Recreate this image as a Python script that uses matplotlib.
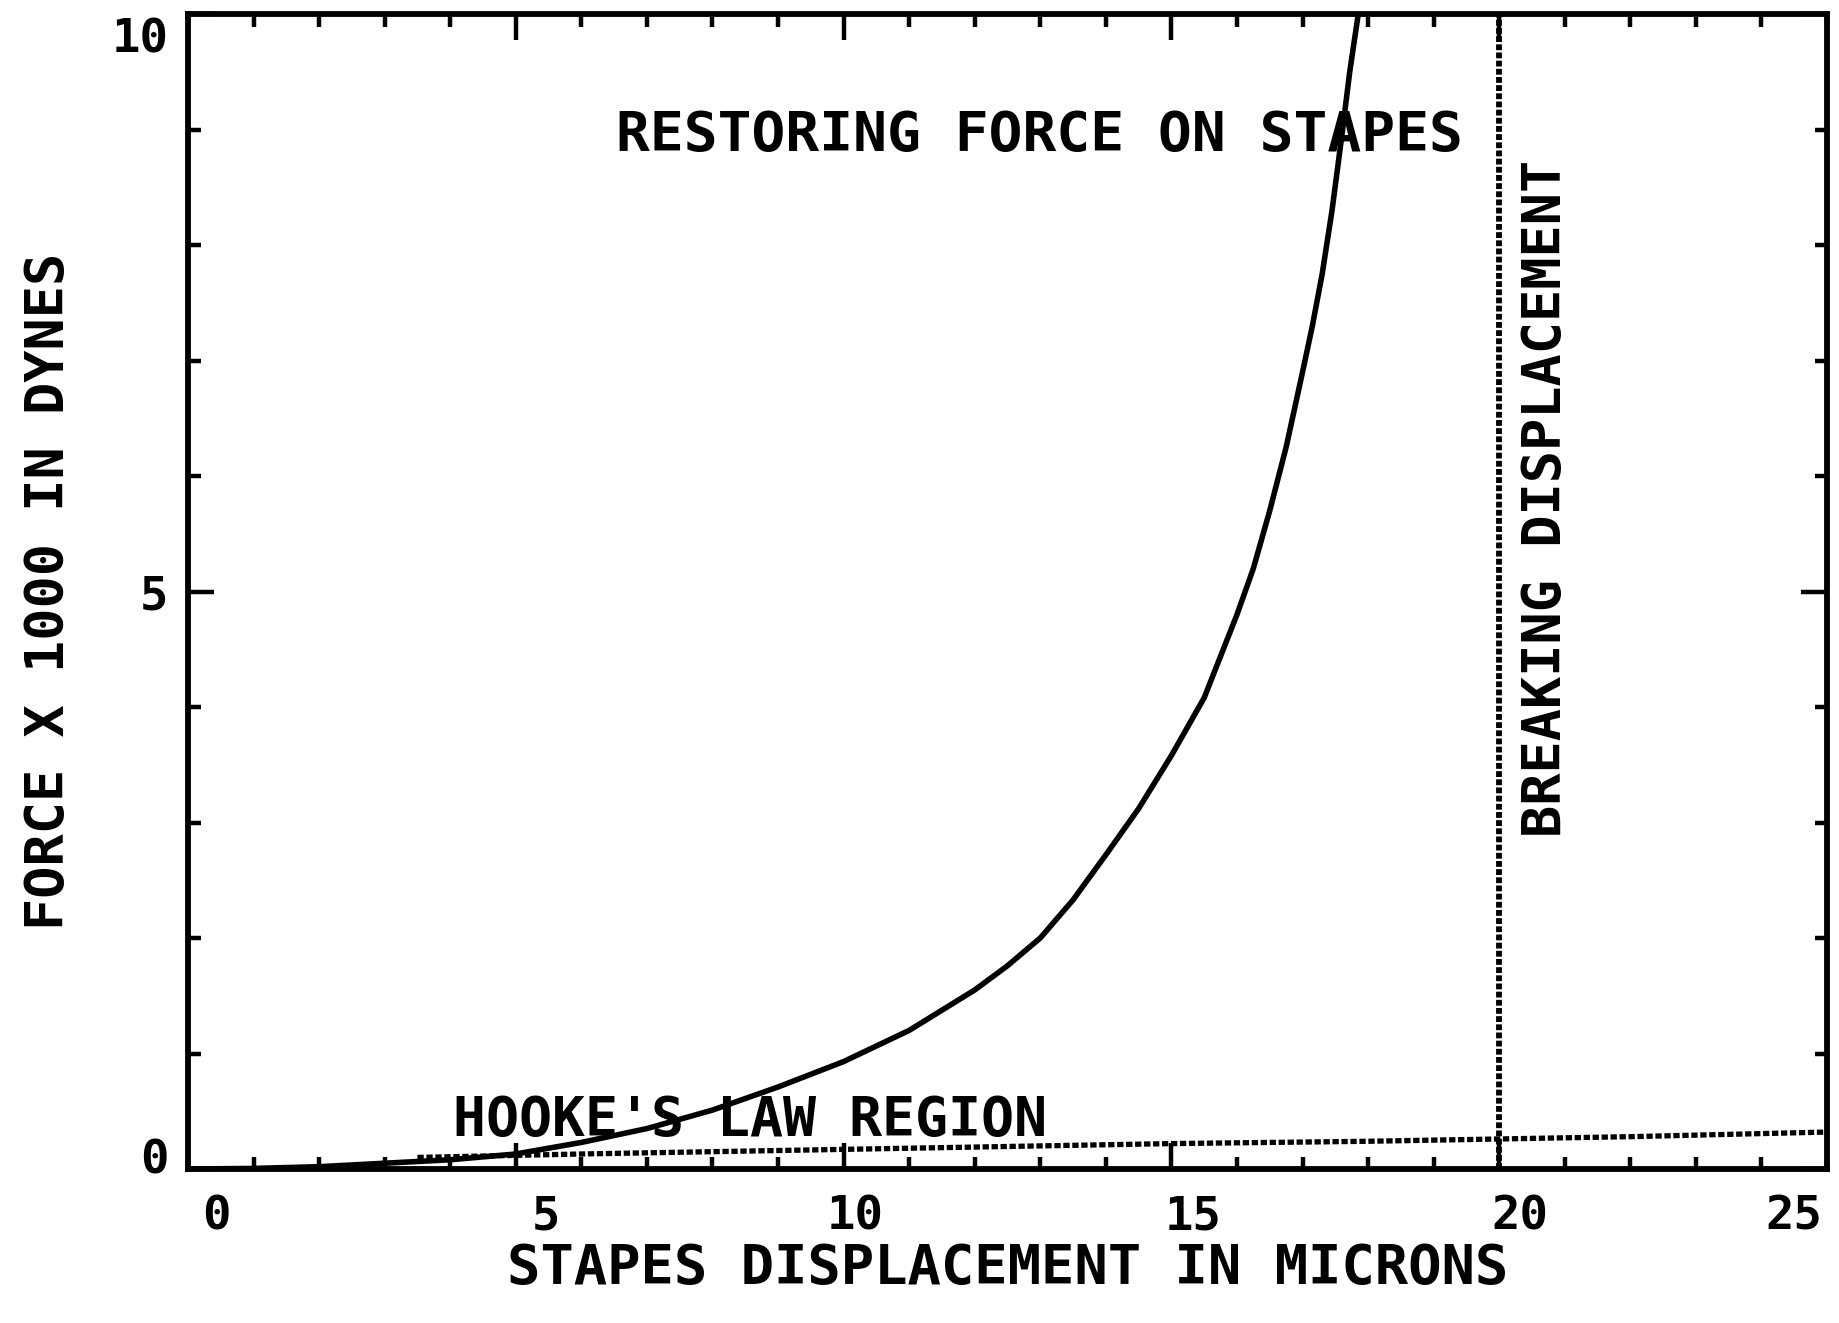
import matplotlib
matplotlib.use('Agg')
import matplotlib.pyplot as plt
from matplotlib.transforms import ScaledTranslation

# restoring force curve
disp = [0, 1, 2, 3, 4, 5, 6, 7, 8, 9, 10, 11, 12, 12.5, 13, 13.5, 14, 14.5, 15, 15.5, 16, 16.25,
        16.5, 16.75, 17, 17.15, 17.3, 17.45, 17.6, 17.72, 17.85]
force = [0, 0.005, 0.02, 0.05, 0.08, 0.13, 0.23, 0.35, 0.51, 0.71, 0.93, 1.2, 1.55, 1.76, 2.0, 2.33, 2.72, 3.12, 3.58, 4.08, 4.8, 5.2,
         5.7, 6.25, 6.9, 7.3, 7.75, 8.3, 8.95, 9.5, 10.0]

# hooke's law (dotted) line
hooke_x = [3.5, 6, 9, 12, 15, 18, 20, 22, 25]
hooke_y = [0.10, 0.13, 0.16, 0.19, 0.22, 0.24, 0.26, 0.28, 0.32]

breaking_x = 20

xticks = [0, 5, 10, 15, 20, 25]
xtick_labels = ['0', '5', '10', '15', '20', '25']
yticks = [0, 5, 10]
ytick_labels = ['0', '5', '10']

plt.rcParams['font.family'] = ['DejaVu Sans Mono', 'DejaVu Sans']
plt.rcParams['font.weight'] = 'bold'

fig = plt.figure(figsize=(18.39, 13.23), dpi=100)
ax = fig.add_axes([0.1022, 0.1164, 0.8913, 0.873])

ax.plot(disp, force, color='black', lw=4.0, solid_joinstyle='round')
ax.plot(hooke_x, hooke_y, color='black', lw=3.8, linestyle=(0, (1.2, 0.5)))
ax.axvline(breaking_x, color='black', lw=4.2, linestyle=(0, (1.0, 0.4)))

ax.set_xlim(0, 25)
ax.set_ylim(0, 10)

for s in ax.spines.values():
  s.set_linewidth(4.2)

ax.set_xticks(xticks)
ax.set_xticklabels(xtick_labels)
ax.set_yticks(yticks)
ax.set_yticklabels(ytick_labels)
ax.set_xticks(range(0, 26), minor=True)
ax.set_yticks(range(0, 11), minor=True)
ax.tick_params(which='both', direction='in', top=True, right=True, width=3.2, colors='black')
ax.tick_params(which='major', length=19, labelsize=34)
ax.tick_params(axis='x', which='major', pad=18)
ax.tick_params(axis='y', which='major', pad=14)
ax.tick_params(which='minor', length=9)

# shift the labels like the old plotter did
xshift = [28, 30, 12, 22, 21, -33]
for lab, dx in zip(ax.get_xticklabels(), xshift):
  lab.set_transform(lab.get_transform() + ScaledTranslation(dx / 100, 0, fig.dpi_scale_trans))
yshift = [13, 0, -21]
for lab, dy in zip(ax.get_yticklabels(), yshift):
  lab.set_transform(lab.get_transform() + ScaledTranslation(0, dy / 100, fig.dpi_scale_trans))

ax.set_xlabel('STAPES DISPLACEMENT IN MICRONS', fontsize=40, fontweight='bold', labelpad=2)
ax.set_ylabel('FORCE X 1000 IN DYNES', fontsize=38.5, fontweight='bold', labelpad=26)

ax.text(12.98, 8.95, 'RESTORING FORCE ON STAPES', fontsize=40.5, fontweight='bold', ha='center', va='center')
ax.text(8.58, 0.42, "HOOKE'S LAW REGION", fontsize=39.5, fontweight='bold', ha='center', va='center')
ax.text(20.71, 5.81, 'BREAKING DISPLACEMENT', fontsize=38.5, fontweight='bold', ha='center', va='center', rotation=90)

fig.savefig('out.png', dpi=100, facecolor='white')
